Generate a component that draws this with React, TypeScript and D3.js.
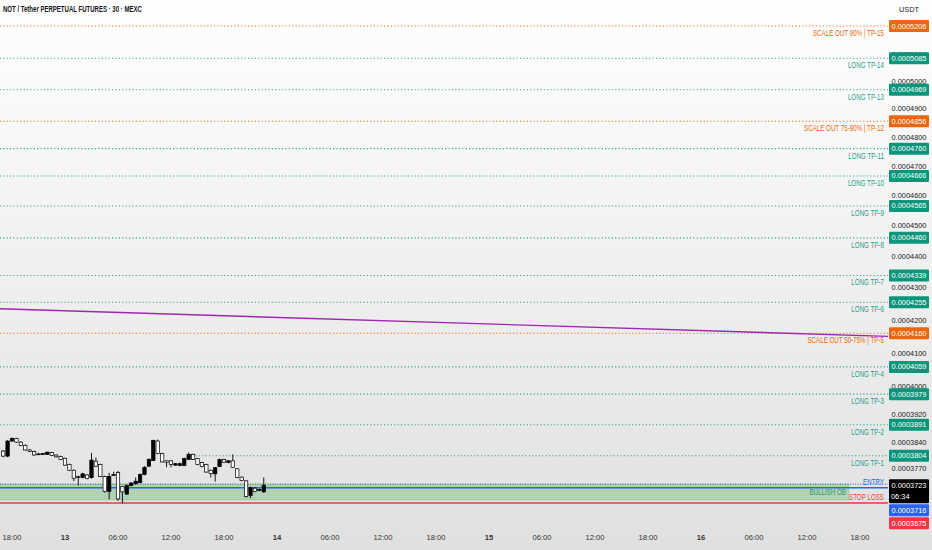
import * as d3 from 'd3';

const W = 932;
const H = 550;
const PLOT_R = 888;
const PLOT_B = 528;

const day = (d: number, h: number, m = 0) => new Date(2025, 5, d, h, m);

const TITLE = 'NOT / Tether PERPETUAL FUTURES · 30 · MEXC';
const CURRENCY = 'USDT';

// 30m bars from the 12th 17:00
const firstBar = day(12, 17);
const opens = [0.0003817, 0.0003803, 0.0003845, 0.0003852, 0.0003842, 0.0003833, 0.0003820, 0.0003816, 0.0003807, 0.0003808,
  0.0003808, 0.0003813, 0.0003806, 0.0003802, 0.0003797, 0.0003780, 0.0003764, 0.0003745, 0.0003744, 0.0003751,
  0.0003744, 0.0003789, 0.0003780, 0.0003747, 0.0003706, 0.0003751, 0.0003758, 0.0003719, 0.0003699, 0.0003722,
  0.0003727, 0.0003730, 0.0003752, 0.0003775, 0.0003791, 0.0003845, 0.0003810, 0.0003790, 0.0003790, 0.0003778,
  0.0003777, 0.0003777, 0.0003794, 0.0003808, 0.0003796, 0.0003785, 0.0003780, 0.0003764, 0.0003754, 0.0003774,
  0.0003794, 0.0003785, 0.0003790, 0.0003768, 0.0003745, 0.0003735, 0.0003695, 0.0003715, 0.0003710, 0.0003705];
const highs = [0.0003820, 0.0003848, 0.0003855, 0.0003854, 0.0003845, 0.0003836, 0.0003823, 0.0003818, 0.0003812, 0.0003812,
  0.0003815, 0.0003815, 0.0003808, 0.0003804, 0.0003799, 0.0003782, 0.0003766, 0.0003749, 0.0003757, 0.0003753,
  0.0003812, 0.0003799, 0.0003782, 0.0003749, 0.0003757, 0.0003760, 0.0003762, 0.0003721, 0.0003725, 0.0003731,
  0.0003744, 0.0003755, 0.0003775, 0.0003797, 0.0003849, 0.0003849, 0.0003812, 0.0003792, 0.0003792, 0.0003784,
  0.0003785, 0.0003799, 0.0003813, 0.0003810, 0.0003798, 0.0003787, 0.0003782, 0.0003766, 0.0003773, 0.0003796,
  0.0003796, 0.0003792, 0.0003808, 0.0003770, 0.0003747, 0.0003737, 0.0003719, 0.0003718, 0.0003714, 0.0003744];
const lows = [0.0003800, 0.0003800, 0.0003843, 0.0003840, 0.0003831, 0.0003818, 0.0003814, 0.0003804, 0.0003806, 0.0003806,
  0.0003806, 0.0003803, 0.0003799, 0.0003792, 0.0003776, 0.0003762, 0.0003734, 0.0003722, 0.0003742, 0.0003739,
  0.0003741, 0.0003773, 0.0003745, 0.0003703, 0.0003685, 0.0003748, 0.0003681, 0.0003674, 0.0003697, 0.0003720,
  0.0003725, 0.0003728, 0.0003750, 0.0003773, 0.0003789, 0.0003808, 0.0003785, 0.0003772, 0.0003772, 0.0003776,
  0.0003775, 0.0003775, 0.0003792, 0.0003792, 0.0003778, 0.0003772, 0.0003757, 0.0003744, 0.0003733, 0.0003772,
  0.0003784, 0.0003783, 0.0003770, 0.0003742, 0.0003734, 0.0003690, 0.0003688, 0.0003704, 0.0003707, 0.0003703];
const closes = [0.0003803, 0.0003845, 0.0003852, 0.0003842, 0.0003833, 0.0003820, 0.0003816, 0.0003806, 0.0003809, 0.0003810,
  0.0003814, 0.0003805, 0.0003801, 0.0003794, 0.0003778, 0.0003764, 0.0003742, 0.0003746, 0.0003754, 0.0003741,
  0.0003792, 0.0003775, 0.0003747, 0.0003706, 0.0003747, 0.0003752, 0.0003686, 0.0003705, 0.0003722, 0.0003729,
  0.0003734, 0.0003752, 0.0003772, 0.0003794, 0.0003847, 0.0003810, 0.0003787, 0.0003786, 0.0003780, 0.0003782,
  0.0003782, 0.0003796, 0.0003808, 0.0003794, 0.0003780, 0.0003774, 0.0003759, 0.0003755, 0.0003771, 0.0003794,
  0.0003786, 0.0003790, 0.0003772, 0.0003744, 0.0003736, 0.0003692, 0.0003716, 0.0003706, 0.0003711, 0.0003723];

// target levels
const levelNames = ['LONG TP-1', 'LONG TP-2', 'LONG TP-3', 'LONG TP-4', 'SCALE OUT 50-75% | TP-5', 'LONG TP-6',
  'LONG TP-7', 'LONG TP-8', 'LONG TP-9', 'LONG TP-10', 'LONG TP-11', 'SCALE OUT 75-90% | TP-12', 'LONG TP-13',
  'LONG TP-14', 'SCALE OUT 90% | TP-15'];
const levelPrices = [0.0003804, 0.0003891, 0.0003979, 0.0004059, 0.0004160, 0.0004255, 0.0004339, 0.0004460,
  0.0004565, 0.0004666, 0.0004760, 0.0004856, 0.0004969, 0.0005085, 0.0005206];
const levelKinds = ['tp', 'tp', 'tp', 'tp', 'scale', 'tp', 'tp', 'tp', 'tp', 'tp', 'tp', 'scale', 'tp', 'tp', 'scale'];
const levelStarts = [day(13, 14), day(12, 12), day(12, 12), day(12, 12), day(12, 12), day(12, 12), day(12, 12),
  day(12, 12), day(12, 12), day(12, 12), day(12, 12), day(12, 12), day(12, 12), day(12, 12), day(12, 12)];

const entryPrice = 0.0003716;
const stopPrice = 0.0003675;
const lastPrice = 0.0003723;
const countdown = '06:34';
const obTop = 0.0003726;
const obBottom = 0.0003683;
const obEnd = day(16, 16, 45);
const trendTimes = [day(12, 16, 30), day(16, 21, 30)];
const trendPrices = [0.0004235, 0.0004150];

const yTicks = [0.00051, 0.0005, 0.00049, 0.00048, 0.00047, 0.00046, 0.00045, 0.00044, 0.00043, 0.00042,
  0.00041, 0.0004, 0.000392, 0.000384, 0.000377];

const x = d3.scaleTime().domain([day(13, 0), day(14, 0)]).range([65, 277]);
const y = d3.scaleLog().domain([0.0005206, 0.0003675]).range([26, 503]);
const fmt = d3.format('.7f');
const xTicks = d3.timeHour.every(6)!.range(day(12, 18), day(16, 19));
const xFmt = (d: Date) => (d.getHours() === 0 ? String(d.getDate()) : d3.timeFormat('%H:%M')(d));

const TEAL = '#0b957a';
const TEAL_LINE = '#26a08a';
const ORANGE = '#ea670d';
const BLUE = '#2962ff';
const RED = '#f23645';
const FONT = '"Liberation Sans", Arial, sans-serif';

type Box = { price: number; text: string; sub?: string; fill: string; h: number };

function layoutBoxes(boxes: Box[]) {
  const sorted = [...boxes].sort((a, b) => y(a.price) - y(b.price));
  let prevBottom = -Infinity;
  return sorted.map(b => {
    const top = Math.max(y(b.price) - 6, prevBottom + 1);
    prevBottom = top + b.h;
    return { ...b, top };
  });
}

function Narrow({ x0, y0, color, children, anchor = 'end', size = 8.4, sx = 0.74 }: any) {
  return (
    <text transform={`translate(${x0},${y0}) scale(${sx},1)`} textAnchor={anchor} dominantBaseline="central"
      fill={color} fontSize={size} fontFamily={FONT}>{children}</text>
  );
}

export default function App() {
  const bars = closes.map((c, i) => ({
    t: d3.timeMinute.offset(firstBar, 30 * i), o: opens[i], h: highs[i], l: lows[i], c,
  }));
  const trend = d3.line<number>().x((_, i) => x(trendTimes[i])).y(d => y(d));

  const boxes = layoutBoxes([
    ...levelPrices.map((p, i) => ({ price: p, text: fmt(p), fill: levelKinds[i] === 'scale' ? ORANGE : TEAL, h: 12 })),
    { price: lastPrice, text: fmt(lastPrice), sub: countdown, fill: '#000', h: 24 },
    { price: entryPrice, text: fmt(entryPrice), fill: BLUE, h: 12 },
    { price: stopPrice, text: fmt(stopPrice), fill: RED, h: 12 },
  ]);

  return (
    <div style={{ position: 'fixed', left: 0, top: 0 }}>
      <svg width={W} height={H} style={{ display: 'block' }}>
        <defs>
          <linearGradient id="bg" x1="0" y1="0" x2="0" y2="1">
            <stop offset="0" stopColor="#ffffff" />
            <stop offset="1" stopColor="#e0e0e0" />
          </linearGradient>
          <clipPath id="plot"><rect x={0} y={0} width={PLOT_R} height={PLOT_B} /></clipPath>
        </defs>
        <rect width={W} height={H} fill="url(#bg)" />

        {/* price axis ticks */}
        {yTicks.map(v => (
          <text key={v} x={909} y={y(v)} textAnchor="middle" dominantBaseline="central" fontSize={7.4}
            fontFamily={FONT} fill="#222">{fmt(v)}</text>
        ))}
        <text x={909} y={9} textAnchor="middle" dominantBaseline="central" fontSize={7.4} fontFamily={FONT}
          fill="#222">{CURRENCY}</text>

        {/* time axis */}
        {xTicks.map(t => (
          <text key={+t} x={x(t)} y={537} textAnchor="middle" dominantBaseline="central" fontSize={7.6}
            fontFamily={FONT} fill="#333" fontWeight={t.getHours() === 0 ? 600 : 400}>{xFmt(t)}</text>
        ))}

        <g clipPath="url(#plot)">
          {/* order block */}
          <rect x={x(day(12, 12))} y={y(obTop)} width={x(obEnd) - x(day(12, 12))} height={y(obBottom) - y(obTop)}
            fill="#4caf50" fillOpacity={0.32} stroke="#4caf50" strokeOpacity={0.35} strokeWidth={0.8} />
          <line x1={0} x2={PLOT_R} y1={y(obTop)} y2={y(obTop)} stroke="#3d7f55" strokeWidth={1} strokeDasharray="1,1.5" />

          {/* target levels */}
          {levelPrices.map((p, i) => (
            <line key={p} x1={x(levelStarts[i])} x2={PLOT_R} y1={y(p)} y2={y(p)}
              stroke={levelKinds[i] === 'scale' ? ORANGE : TEAL_LINE} strokeWidth={1.1} strokeDasharray="1.1,2.3" />
          ))}

          {/* trend line */}
          <path d={trend(trendPrices)!} fill="none" stroke="#9c27b0" strokeWidth={1.4} />

          {/* entry / stop */}
          <line x1={0} x2={PLOT_R} y1={y(entryPrice)} y2={y(entryPrice)} stroke={BLUE} strokeWidth={1.4} />
          <line x1={0} x2={PLOT_R} y1={y(stopPrice)} y2={y(stopPrice)} stroke={RED} strokeWidth={1.4} />

          {/* candles */}
          {bars.map(b => {
            const cx = x(b.t);
            const up = b.c >= b.o;
            const top = y(Math.max(b.o, b.c));
            const bot = y(Math.min(b.o, b.c));
            return (
              <g key={+b.t}>
                <line x1={cx} x2={cx} y1={y(b.h)} y2={y(b.l)} stroke="#000" strokeWidth={0.9} />
                <rect x={cx - 1.7} y={top} width={3.4} height={Math.max(bot - top, 0.8)}
                  fill={up ? '#000' : '#fff'} stroke="#000" strokeWidth={0.7} />
              </g>
            );
          })}

          {/* level labels */}
          {levelPrices.map((p, i) => (
            <Narrow key={p} x0={884} y0={y(p) + 7} color={levelKinds[i] === 'scale' ? ORANGE : TEAL_LINE}>
              {levelNames[i]}
            </Narrow>
          ))}
          <Narrow x0={884} y0={y(entryPrice) - 6} color={BLUE}>ENTRY</Narrow>
          <Narrow x0={884} y0={y(stopPrice) - 6} color={RED}>STOP LOSS</Narrow>
          <Narrow x0={x(obEnd) - 3} y0={y(obTop) + 8} color="#2f9a6c">BULLISH OB</Narrow>
        </g>

        {/* price labels */}
        {boxes.map(b => (
          <g key={b.text + b.fill}>
            <rect x={889} y={b.top} width={40} height={b.h} fill={b.fill} rx={1} />
            <text x={909} y={b.top + 6} textAnchor="middle" dominantBaseline="central" fontSize={7.4}
              fontFamily={FONT} fill="#fff">{b.text}</text>
            {b.sub && (
              <text x={891} y={b.top + 17.5} dominantBaseline="central" fontSize={7.4} fontFamily={FONT}
                fill="#fff">{b.sub}</text>
            )}
          </g>
        ))}

        <Narrow x0={3} y0={9} color="#131722" anchor="start" size={8.4} sx={0.72}>
          <tspan fontWeight={600}>{TITLE}</tspan>
        </Narrow>
      </svg>
    </div>
  );
}
